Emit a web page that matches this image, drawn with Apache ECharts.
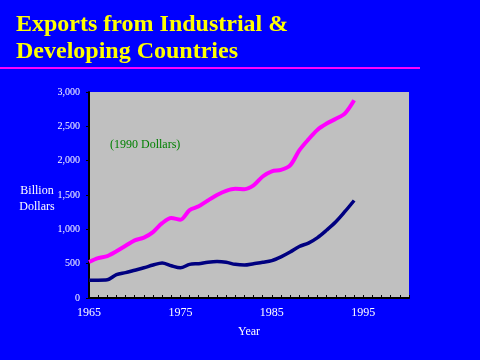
<!DOCTYPE html>
<html><head><meta charset="utf-8">
<script src="https://cdn.jsdelivr.net/npm/echarts@6/dist/echarts.min.js"></script>
<style>html,body{margin:0;padding:0;background:#0000FF;}#c{width:480px;height:360px;}</style>
</head><body><div id="c"></div>
<script>
const years = [1965,1966,1967,1968,1969,1970,1971,1972,1973,1974,1975,1976,1977,1978,1979,1980,1981,1982,1983,1984,1985,1986,1987,1988,1989,1990,1991,1992,1993,1994];
const industrial = [525,580,610,680,760,840,880,960,1090,1165,1140,1280,1335,1420,1500,1560,1590,1585,1640,1770,1845,1865,1930,2150,2310,2450,2540,2610,2690,2880];
const developing = [260,260,265,340,370,405,440,480,510,470,440,490,500,520,530,520,490,480,500,520,545,600,670,750,800,880,990,1110,1260,1420];
const xLabels = [1965,1975,1985,1995];
const titleLines = ['Exports from Industrial &','Developing Countries'];

const serif = '"Liberation Serif","Times New Roman",serif';
const chart = echarts.init(document.getElementById('c'));
chart.setOption({
  backgroundColor:'#0000FF',
  animation:false,
  grid:{left:89,top:92,right:71,bottom:62,show:true,backgroundColor:'#C0C0C0',borderWidth:0},
  xAxis:{type:'value',min:1965,max:2000,interval:1,
    name:'Year',nameLocation:'middle',nameGap:28,
    nameTextStyle:{color:'#FFFFFF',fontFamily:serif,fontSize:12},
    axisLine:{lineStyle:{color:'#000000',width:2}},
    axisTick:{inside:true,length:3,lineStyle:{color:'#000000'}},
    splitLine:{show:false},
    axisLabel:{color:'#FFFFFF',fontFamily:serif,fontSize:12,margin:9,
      formatter:v=>xLabels.indexOf(v)>=0?String(v):''}},
  yAxis:{type:'value',min:0,max:3000,interval:500,
    axisLine:{show:true,lineStyle:{color:'#000000',width:2}},
    axisTick:{show:true,length:3,lineStyle:{color:'#000000'}},
    splitLine:{show:false},
    axisLabel:{color:'#FFFFFF',fontFamily:serif,fontSize:10,margin:9,
      formatter:v=>v.toLocaleString('en-US')}},
  series:[
    {type:'line',data:years.map((y,i)=>[y,industrial[i]]),showSymbol:false,smooth:0.3,
      lineStyle:{color:'#FF00FF',width:4}},
    {type:'line',data:years.map((y,i)=>[y,developing[i]]),showSymbol:false,smooth:0.3,
      lineStyle:{color:'#000080',width:3.5}}
  ],
  graphic:[
    {type:'text',left:16,top:11,style:{text:titleLines.join('\n'),fill:'#FFFF00',
      font:'bold 24px '+serif,lineHeight:27}},
    {type:'rect',shape:{x:0,y:67,width:420,height:2},style:{fill:'#FF00FF'}},
    {type:'text',x:37,y:183,style:{text:'Billion\nDollars',fill:'#FFFFFF',
      font:'12px '+serif,lineHeight:16,align:'center'}},
    {type:'text',left:110,top:139,style:{text:'(1990 Dollars)',fill:'#008000',font:'12px '+serif}}
  ]
});
</script></body></html>
